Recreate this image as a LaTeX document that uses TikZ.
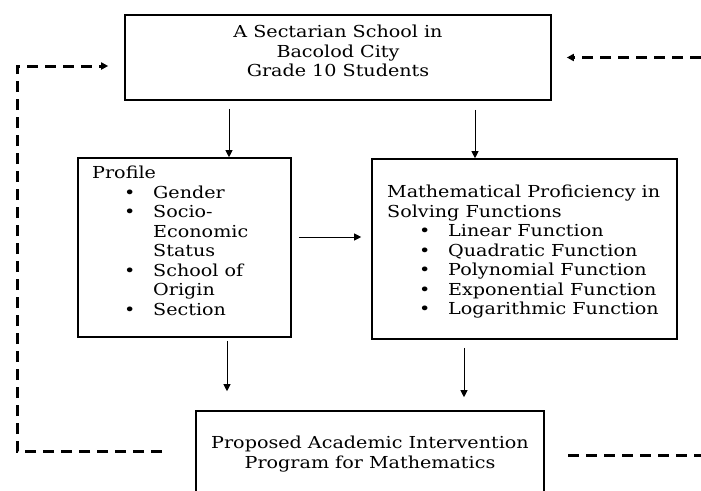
\documentclass[tikz,border=0pt]{standalone}
\usepackage{fontspec}
\setmainfont{DejaVu Serif}[FakeStretch=1.16]
\usetikzlibrary{arrows.meta}

\tikzset{
	box/.style={draw, line width=1.6pt, inner sep=0pt},
	txt/.style={inner sep=0pt, font=\fontsize{16.5pt}{19.5pt}\selectfont},
	arr/.style={-{Triangle[length=7pt,width=7pt]}, line width=0.8pt},
	feedback/.style={line width=3pt, dash pattern=on 11pt off 7pt},
}
\newcommand{\blt}{\hspace*{32pt}\makebox[29pt][l]{\textbullet}}
\newcommand{\ind}{\hspace*{61pt}}

\begin{document}
\begin{tikzpicture}[x=1pt,y=-1pt]
		\useasboundingbox (0,0) rectangle (701,490);
		\clip (0,0) rectangle (701,490);
		% boxes
		\node[box, minimum width=426pt, minimum height=85pt] (school) at (338,57.5) {};
		\node[txt, align=center] at ([yshift=6.5pt]school.center) {A Sectarian School in\\Bacolod City\\Grade 10 Students};
		\node[box, minimum width=213pt, minimum height=179pt] (profile) at (184.5,247.5) {};
		\node[txt, align=left, anchor=north west] at (92,166) {Profile\\
			\blt Gender\\
			\blt Socio-\\
			\ind Economic\\
			\ind Status\\
			\blt School of\\
			\ind Origin\\
			\blt Section};
		\node[box, minimum width=305pt, minimum height=180pt] (proficiency) at (524.5,249) {};
		\node[txt, align=left, anchor=north west] at (387,185) {Mathematical Proficiency in\\
			Solving Functions\\
			\blt Linear Function\\
			\blt Quadratic Function\\
			\blt Polynomial Function\\
			\blt Exponential Function\\
			\blt Logarithmic Function};
		\node[box, txt, align=center, minimum width=348pt, minimum height=86pt] (program) at (370,454) {Proposed Academic Intervention\\Program for Mathematics};
		% arrows
		\coordinate (p1) at ([xshift=44.5pt]profile.north);
		\coordinate (p2) at ([xshift=-49.5pt]proficiency.north);
		\coordinate (p3) at ([xshift=42.5pt]profile.south);
		\coordinate (p4) at ([xshift=-60.5pt]proficiency.south);
		\draw[arr, shorten <=8pt] (school.south -| p1) -- (p1);
		\draw[arr, shorten <=9pt] (school.south -| p2) -- (p2);
		\draw[arr, shorten <=7pt, shorten >=10pt] ([yshift=10.5pt]profile.east) -- ([yshift=10.5pt]profile.east -| proficiency.west);
		\draw[arr, shorten <=3pt, shorten >=19pt] (p3) -- (p3 |- program.north);
		\draw[arr, shorten <=8pt, shorten >=13pt] (p4) -- (p4 |- program.north);
		% feedback
		\coordinate (fbl) at (162,451);
		\coordinate (fbc) at (17,451);
		\coordinate (fbr) at (701,57.5);
		\coordinate (fbb) at (568,455);
		\coordinate (fbe) at (701,455);
		\draw[feedback, arr, line width=3pt, shorten >=16pt] (fbl) -- (fbc) |- ([yshift=-8.5pt]school.west);
		\draw[feedback, arr, line width=3pt, shorten >=15pt] (fbr) -- (school.east);
		\draw[feedback] (fbb) -- (fbe);
\end{tikzpicture}
\end{document}
